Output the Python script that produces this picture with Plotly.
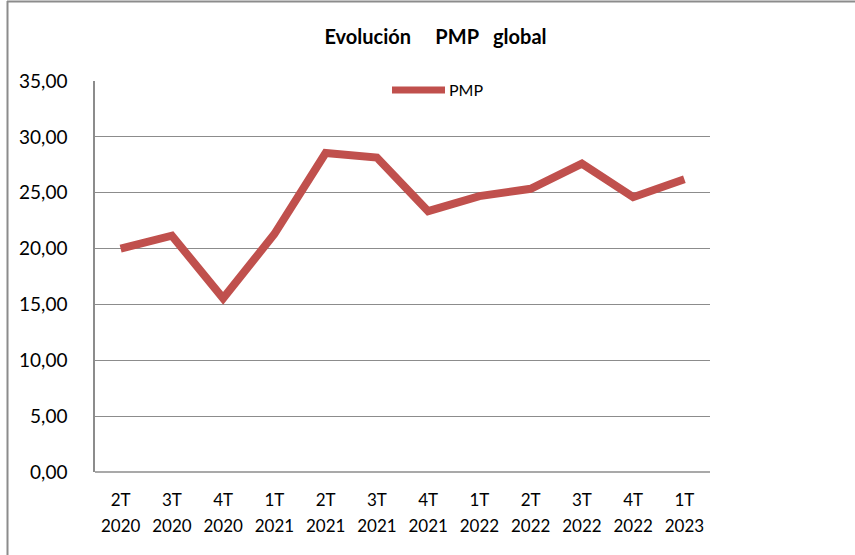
import plotly.graph_objects as go

quarters = ["2T", "3T", "4T", "1T", "2T", "3T", "4T", "1T", "2T", "3T", "4T", "1T"]
years = ["2020", "2020", "2020", "2021", "2021", "2021", "2021", "2022", "2022", "2022", "2022", "2023"]
pmp = [20.0, 21.15, 15.55, 21.3, 28.55, 28.15, 23.35, 24.7, 25.35, 27.6, 24.6, 26.2]
y_ticks = [0, 5, 10, 15, 20, 25, 30, 35]

idx = list(range(len(pmp)))

LINE_COLOR = "#C0504D"
GRID = "#8c8c8c"
FONT = "Lato"

fig = go.Figure()
fig.add_trace(go.Scatter(
    x=idx, y=pmp, mode="lines", name="PMP",
    line=dict(color=LINE_COLOR, width=8, shape="linear"),
    showlegend=False,
))
# invisible trace to carry the second (year) axis
fig.add_trace(go.Scatter(
    x=idx, y=pmp, mode="lines", xaxis="x2", yaxis="y",
    line=dict(color="rgba(0,0,0,0)", width=0),
    showlegend=False, hoverinfo="skip",
))

xr = [-0.5, len(pmp) - 0.5]

fig.update_layout(
    width=855, height=555,
    margin=dict(l=95, r=145, t=81, b=83),
    paper_bgcolor="white", plot_bgcolor="white",
    separators=",.",
    font=dict(family=FONT, size=16, color="#000000"),
    title=dict(
        text="<b>Evolución" + "\u00a0" * 5 + "PMP" + "\u00a0" * 3 + "global</b>",
        x=435.5 / 855, xanchor="center", y=1 - 37 / 555, yanchor="middle",
        font=dict(family=FONT, size=20, color="#000000"),
    ),
    xaxis=dict(
        range=xr, tickvals=idx, ticktext=quarters,
        showgrid=False, zeroline=False, showline=False, ticks="",
        ticklabelstandoff=16, tickfont=dict(family=FONT, size=17),
    ),
    xaxis2=dict(
        range=xr, tickvals=idx, ticktext=years, overlaying="x", side="bottom",
        anchor="y", showgrid=False, zeroline=False, showline=False, ticks="",
        ticklabelstandoff=42, tickfont=dict(family=FONT, size=17),
    ),
    yaxis=dict(
        range=[0, 35], tickvals=y_ticks, tickformat=".2f",
        showgrid=True, gridcolor=GRID, gridwidth=1.3,
        zeroline=False, showline=True, linecolor=GRID, linewidth=1.5,
        ticks="", ticklabelstandoff=22,
        tickfont=dict(family=FONT, size=19),
    ),
    shapes=[
        # outer chart border (top and left)
        dict(type="line", xref="paper", yref="paper",
             x0=-88 / 615, x1=760 / 615, y0=1 + 79.5 / 391, y1=1 + 79.5 / 391,
             line=dict(color="#8c8c8c", width=2)),
        dict(type="line", xref="paper", yref="paper",
             x0=-87.5 / 615, x1=-87.5 / 615, y0=-83 / 391, y1=1 + 80 / 391,
             line=dict(color="#8c8c8c", width=2)),
        # bottom axis line
        dict(type="line", xref="paper", yref="paper",
             x0=0, x1=1, y0=0, y1=0,
             line=dict(color=GRID, width=1.5)),
        # legend sample
        dict(type="line", xref="paper", yref="paper",
             x0=(392 - 95) / 615, x1=(445 - 95) / 615,
             y0=(472 - 90) / 391, y1=(472 - 90) / 391,
             line=dict(color=LINE_COLOR, width=7)),
    ],
    annotations=[
        dict(text="PMP", xref="paper", yref="paper",
             x=(447 - 95) / 615, y=(472 - 89) / 391,
             xanchor="left", yanchor="middle", showarrow=False,
             font=dict(family=FONT, size=16, color="#000000")),
    ],
)

fig.write_html(
    "out.html",
    config={"displayModeBar": False},
    post_script="document.body.style.margin='0';document.body.style.padding='0';",
)
